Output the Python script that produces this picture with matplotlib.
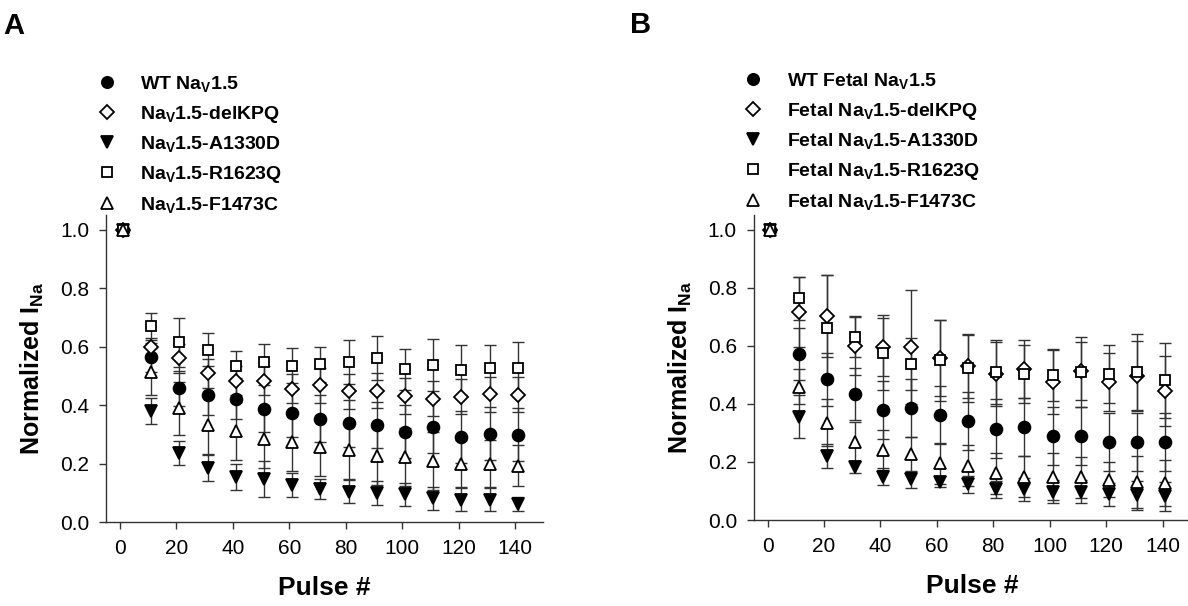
import matplotlib
matplotlib.use("Agg")
import matplotlib.pyplot as plt
import numpy as np

plt.rcParams['font.family'] = ['Liberation Sans', 'DejaVu Sans']
plt.rcParams['mathtext.default'] = 'regular'

pulses = [1, 11, 21, 31, 41, 51, 61, 71, 81, 91, 101, 111, 121, 131, 141]

labels_a = [r'WT Na$_V$1.5', r'Na$_V$1.5-delKPQ', r'Na$_V$1.5-A1330D',
            r'Na$_V$1.5-R1623Q', r'Na$_V$1.5-F1473C']
labels_b = [r'WT Fetal Na$_V$1.5', r'Fetal Na$_V$1.5-delKPQ', r'Fetal Na$_V$1.5-A1330D',
            r'Fetal Na$_V$1.5-R1623Q', r'Fetal Na$_V$1.5-F1473C']

# panel A means
a_wt = [1.0, 0.563, 0.458, 0.435, 0.422, 0.388, 0.372, 0.353, 0.337, 0.332, 0.309, 0.326, 0.291, 0.302, 0.299]
a_delkpq = [1.0, 0.600, 0.560, 0.509, 0.483, 0.483, 0.456, 0.467, 0.447, 0.449, 0.431, 0.422, 0.428, 0.437, 0.435]
a_a1330d = [1.0, 0.380, 0.236, 0.185, 0.153, 0.147, 0.127, 0.112, 0.104, 0.099, 0.095, 0.081, 0.076, 0.076, 0.062]
a_r1623q = [1.0, 0.669, 0.614, 0.590, 0.535, 0.548, 0.534, 0.540, 0.548, 0.560, 0.523, 0.537, 0.519, 0.526, 0.526]
a_f1473c = [1.0, 0.514, 0.389, 0.332, 0.311, 0.285, 0.273, 0.256, 0.246, 0.225, 0.223, 0.208, 0.199, 0.199, 0.193]

# panel A errors
a_wt_err = [0, 0.05, 0.06, 0.07, 0.07, 0.08, 0.08, 0.08, 0.08, 0.08, 0.09, 0.09, 0.09, 0.09, 0.09]
a_delkpq_err = [0, 0.03, 0.05, 0.05, 0.05, 0.05, 0.05, 0.06, 0.06, 0.06, 0.06, 0.06, 0.06, 0.06, 0.06]
a_a1330d_err = [0, 0.045, 0.04, 0.045, 0.045, 0.06, 0.04, 0.035, 0.04, 0.04, 0.04, 0.04, 0.04, 0.04, 0.025]
a_r1623q_err = [0, 0.045, 0.085, 0.055, 0.05, 0.06, 0.06, 0.06, 0.075, 0.075, 0.07, 0.09, 0.085, 0.08, 0.09]
a_f1473c_err = [0, 0.08, 0.09, 0.1, 0.1, 0.1, 0.1, 0.1, 0.1, 0.1, 0.1, 0.1, 0.08, 0.08, 0.07]

# panel B means
b_wt = [1.0, 0.571, 0.484, 0.433, 0.378, 0.386, 0.361, 0.341, 0.315, 0.321, 0.290, 0.290, 0.267, 0.269, 0.267]
b_delkpq = [1.0, 0.717, 0.702, 0.599, 0.596, 0.596, 0.558, 0.530, 0.502, 0.519, 0.474, 0.513, 0.476, 0.495, 0.443]
b_a1330d = [1.0, 0.356, 0.220, 0.183, 0.149, 0.140, 0.132, 0.123, 0.106, 0.106, 0.097, 0.097, 0.088, 0.086, 0.082]
b_r1623q = [1.0, 0.763, 0.662, 0.631, 0.576, 0.536, 0.550, 0.522, 0.510, 0.502, 0.499, 0.510, 0.502, 0.510, 0.481]
b_f1473c = [1.0, 0.459, 0.335, 0.269, 0.241, 0.226, 0.195, 0.187, 0.161, 0.149, 0.149, 0.147, 0.138, 0.132, 0.128]

# panel B errors
b_wt_err = [0, 0.09, 0.09, 0.09, 0.1, 0.1, 0.1, 0.1, 0.1, 0.1, 0.1, 0.1, 0.1, 0.1, 0.1]
b_delkpq_err = [0, 0.12, 0.14, 0.1, 0.1, 0.195, 0.13, 0.11, 0.11, 0.1, 0.11, 0.1, 0.1, 0.12, 0.12]
b_a1330d_err = [0, 0.075, 0.04, 0.02, 0.03, 0.03, 0.02, 0.03, 0.03, 0.04, 0.04, 0.04, 0.04, 0.05, 0.05]
b_r1623q_err = [0, 0.075, 0.18, 0.07, 0.13, 0.09, 0.14, 0.115, 0.11, 0.1, 0.09, 0.12, 0.1, 0.13, 0.13]
b_f1473c_err = [0, 0.06, 0.08, 0.07, 0.07, 0.06, 0.07, 0.07, 0.07, 0.07, 0.08, 0.07, 0.06, 0.09, 0.08]

styles = [
    dict(marker='o', mfc='black', ms=8.5),
    dict(marker='D', mfc='white', ms=7),
    dict(marker='v', mfc='black', ms=8.5),
    dict(marker='s', mfc='white', ms=7.5),
    dict(marker='^', mfc='white', ms=8.5),
]


def draw_panel(fig, ax, series, errors, labels, letter, letter_xy, legend_xy, textpad):
    handles = []
    for y, e in zip(series, errors):
        ax.errorbar(pulses, y, yerr=e, fmt='none', ecolor='#333333',
                    elinewidth=1.0, capsize=4, capthick=1.0, zorder=2)
    for y, st, lab in zip(series, styles, labels):
        h, = ax.plot(pulses, y, linestyle='none', mec='black', mew=1.3,
                     label=lab, zorder=3, **st)
        handles.append(h)

    ax.set_xlim(-5, 150)
    ax.set_ylim(0, 1.05)
    ax.set_xticks(np.arange(0, 141, 20))
    ax.set_yticks(np.arange(0, 1.01, 0.2))
    ax.set_yticklabels(['%.1f' % v for v in np.arange(0, 1.01, 0.2)])
    for s in ['top', 'right']:
        ax.spines[s].set_visible(False)
    for s in ['left', 'bottom']:
        ax.spines[s].set_color('#333333')
        ax.spines[s].set_linewidth(1.0)
    ax.tick_params(direction='out', length=5, width=1, color='#333333',
                   labelsize=15, pad=7)
    ax.set_xlabel('Pulse #', fontsize=19, fontweight='bold', labelpad=13)
    ax.set_ylabel('Normalized I$_{Na}$', fontsize=18, fontweight='bold', labelpad=10)

    ax.legend(handles=handles, loc='upper left', bbox_to_anchor=legend_xy,
              bbox_transform=fig.transFigure,
              frameon=False, prop=dict(size=14, weight='bold'),
              handletextpad=textpad, labelspacing=0.5, borderaxespad=0,
              handlelength=1.2, markerscale=0.95)
    fig.text(letter_xy[0], letter_xy[1], letter, fontsize=21,
             fontweight='bold', va='top', ha='left')


fig = plt.figure(figsize=(11.88, 6.06), dpi=100)
ax_a = fig.add_axes([0.0892, 0.1386, 0.368, 0.5066])
ax_b = fig.add_axes([0.6343, 0.1419, 0.368, 0.5033])

draw_panel(fig, ax_a, [a_wt, a_delkpq, a_a1330d, a_r1623q, a_f1473c],
           [a_wt_err, a_delkpq_err, a_a1330d_err, a_r1623q_err, a_f1473c_err],
           labels_a, 'A', (0.003, 0.980), (0.0737, 0.891), 1.1)
draw_panel(fig, ax_b, [b_wt, b_delkpq, b_a1330d, b_r1623q, b_f1473c],
           [b_wt_err, b_delkpq_err, b_a1330d_err, b_r1623q_err, b_f1473c_err],
           labels_b, 'B', (0.530, 0.982), (0.6174, 0.896), 1.15)

fig.savefig('out.png', dpi=100)
